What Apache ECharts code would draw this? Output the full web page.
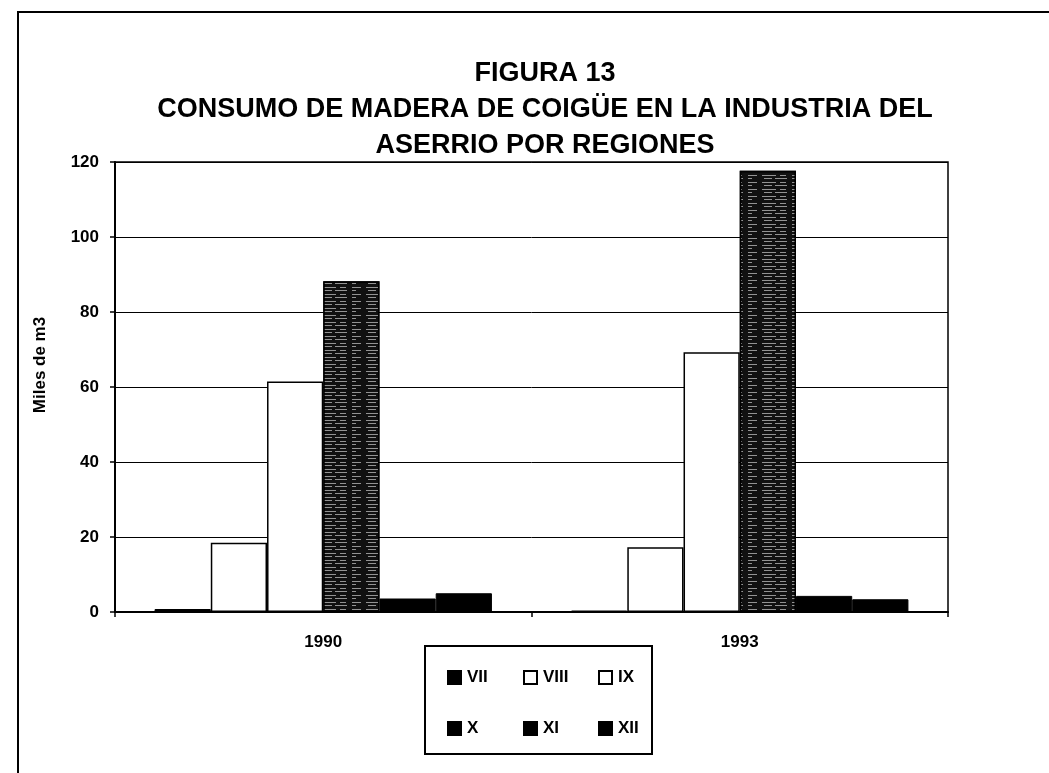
<!DOCTYPE html>
<html>
<head>
<meta charset="utf-8">
<script src="https://cdn.jsdelivr.net/npm/echarts@6/dist/echarts.min.js"></script>
<style>
html,body{margin:0;padding:0;background:#fff;}
#c{width:1049px;height:773px;}
</style>
</head>
<body>
<div id="c"></div>
<script>
const titleLines = ['FIGURA 13', 'CONSUMO DE MADERA DE COIGÜE EN LA INDUSTRIA DEL', 'ASERRIO POR REGIONES'];
const yAxisName = 'Miles de m3';
const categories = ['1990', '1993'];
const regionNames = ['VII', 'VIII', 'IX', 'X', 'XI', 'XII'];
const vii  = [0.8, 0.4];
const viii = [18.5, 17.3];
const ix   = [61.5, 69.3];
const x    = [88.2, 117.7];
const xi   = [3.6, 4.3];
const xii  = [5.0, 3.4];
const seriesValues = [vii, viii, ix, x, xi, xii];

const FONT = '"Liberation Sans", Arial, sans-serif';
const styles = [
  {color:'#000', borderColor:'#000', borderWidth:1},
  {color:'#fff', borderColor:'#000', borderWidth:1.5},
  {color:'#fff', borderColor:'#000', borderWidth:1.5},
  {color:'#111', borderColor:'#000', borderWidth:1.5,
   decal:{symbol:'rect', symbolSize:1, dashArrayX:[[9,5,14,4,6,6],[4,12,8,3,12,5]], dashArrayY:[1,2,1,3], color:'rgba(255,255,255,0.55)'}},
  {color:'#000', borderColor:'#000', borderWidth:1},
  {color:'#000', borderColor:'#000', borderWidth:1}
];

const chart = echarts.init(document.getElementById('c'));
const legendCols = [[0,3],[1,4],[2,5]];
const legendX = [442, 518, 593];
chart.setOption({
  animation:false,
  backgroundColor:'#fff',
  title:{
    text: titleLines.join('\n'),
    left: 540, top: 51, textAlign:'center',
    textStyle:{fontFamily:FONT, fontSize:27, fontWeight:'bold', color:'#000', lineHeight:36}
  },
  graphic:[
    {type:'rect', shape:{x:18, y:12, width:1100, height:800}, style:{fill:null, stroke:'#000', lineWidth:2}, silent:true},
    {type:'rect', shape:{x:425, y:646, width:227, height:108}, style:{fill:null, stroke:'#000', lineWidth:2}, silent:true}
  ],
  legend: legendCols.map((col, i) => ({
    orient:'vertical', left: legendX[i], top: 664, itemGap: 34,
    itemWidth:13, itemHeight:13, icon:'rect',
    data: col.map(k => regionNames[k] === 'X' ? {name:'X', itemStyle:{color:'#000', decal:'none'}} : regionNames[k]),
    textStyle:{fontFamily:FONT, fontSize:17, fontWeight:'bold', color:'#000', padding:[0,0,0,1]}
  })),
  grid:{left:115, right:101, top:162, bottom:161, show:true, borderColor:'#000', borderWidth:1.5, backgroundColor:'transparent'},
  xAxis:{
    type:'category', data:categories,
    axisLine:{lineStyle:{color:'#000', width:2}},
    axisTick:{show:true, alignWithLabel:false, length:5, lineStyle:{color:'#000', width:1.5}},
    axisLabel:{fontFamily:FONT, fontSize:17, fontWeight:'bold', color:'#000', margin:22}
  },
  yAxis:{
    type:'value', min:0, max:120, interval:20,
    name:yAxisName, nameLocation:'middle', nameGap:66, nameRotate:90,
    nameTextStyle:{fontFamily:FONT, fontSize:17, fontWeight:'bold', color:'#000', padding:[0,0,0,44]},
    axisLine:{show:true, lineStyle:{color:'#000', width:2}},
    axisTick:{show:true, length:5, lineStyle:{color:'#000', width:1.5}},
    axisLabel:{fontFamily:FONT, fontSize:17, color:'#000', margin:16, fontWeight:'bold'},
    splitLine:{show:true, lineStyle:{color:'#000', width:1}}
  },
  series: regionNames.map((n, i) => ({
    name:n, type:'bar', data:seriesValues[i],
    barGap:'0%', barCategoryGap:'19%',
    itemStyle:styles[i]
  }))
});
</script>
</body>
</html>
